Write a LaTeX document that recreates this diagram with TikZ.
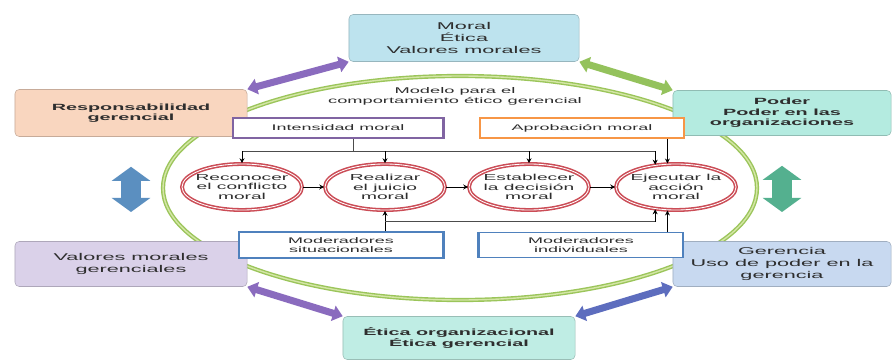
\documentclass[tikz,border=0pt]{standalone}
\usepackage{fontspec}
\setmainfont[FakeStretch=2.2]{Liberation Sans}
\usetikzlibrary{shapes.geometric,arrows.meta,calc}
\definecolor{moralblue}{HTML}{BDE3EE}
\definecolor{peach}{HTML}{F9D6BF}
\definecolor{aqua}{HTML}{B4EBE0}
\definecolor{lavender}{HTML}{DAD1E9}
\definecolor{paleblue}{HTML}{C8D9F0}
\definecolor{mint}{HTML}{BFEDE4}
\definecolor{ringgreen}{HTML}{9BC55A}
\definecolor{ringlight}{HTML}{D4E6A6}
\definecolor{stepred}{HTML}{CB4C56}
\definecolor{purpleline}{HTML}{8064A2}
\definecolor{orangeline}{HTML}{F79646}
\definecolor{blueline}{HTML}{4F81BD}
\definecolor{textgray}{HTML}{2E2E2E}
\definecolor{arrowpurple}{HTML}{8A6BBE}
\definecolor{arrowgreen}{HTML}{94C25C}
\definecolor{arrowblue}{HTML}{5B8FC0}
\definecolor{arrowteal}{HTML}{54B08F}
\definecolor{arrowindigo}{HTML}{5D6DBE}
\newcommand{\boxfont}{\fontsize{7}{8.5}\selectfont}
\newcommand{\boxboldfont}{\fontsize{6.4}{7.4}\selectfont\bfseries}
\newcommand{\stagefont}{\fontsize{5.8}{6.6}\selectfont}
\newcommand{\circlefont}{\fontsize{6.2}{6.9}\selectfont}

\begin{document}
\begin{tikzpicture}[x=0.025cm, y=-0.025cm]
    \tikzset{
        topic/.style={rounded corners=3pt, fill=#1, draw=#1!80!black, line width=0.4pt, align=center, text=textgray, inner sep=1pt},
        factor/.style={draw=#1, line width=1pt, fill=white, align=center, text=textgray, font=\stagefont, inner sep=1pt},
        stage/.style={ellipse, draw=stepred, line width=1.1pt, double=white, double distance=0.6pt, fill=white, minimum width=3cm, minimum height=1.15cm, align=center, text=textgray, font=\circlefont, inner xsep=-8pt, inner ysep=0pt},
        feed/.style={-{Stealth[length=3.5pt,width=3.5pt]}, line width=0.5pt, black},
        strongfeed/.style={feed, line width=1pt},
        busline/.style={line width=0.4pt, black!70},
        wide/.style={{Triangle[length=7pt,width=11pt]}-{Triangle[length=7pt,width=11pt]}, line width=5pt, draw=#1},
        tall/.style={{Triangle[length=10pt,width=27pt]}-{Triangle[length=10pt,width=27pt]}, line width=14pt, draw=#1, shorten <=0.75cm, shorten >=0.73cm}
    }
    \path[use as bounding box, fill=white] (0,0) rectangle (892,360);
    % MODEL RING
    \draw[ringgreen, line width=1pt, double=ringlight, double distance=1pt] (460,188) ellipse [x radius=297, y radius=112];
    \node[font=\fontsize{5.9}{7.2}\selectfont, text=textgray, align=center] (title) at (455,96) {Modelo para el\\comportamiento ético gerencial};
    % OUTER BOXES
    \node[topic=moralblue, minimum width=5.75cm, minimum height=1.175cm, font=\boxfont] (moral) at (464,38) {Moral\\Ética\\Valores morales};
    \node[topic=peach, minimum width=5.8cm, minimum height=1.175cm, font=\boxboldfont] (resp) at (131,113) {Responsabilidad\\gerencial};
    \node[topic=aqua, minimum width=5.45cm, minimum height=1.125cm, font=\boxboldfont] (poder) at (782,113) {Poder\\Poder en las\\organizaciones};
    \node[topic=lavender, minimum width=5.8cm, minimum height=1.125cm, font=\boxfont] (valores) at (131,264) {Valores morales\\gerenciales};
    \node[topic=paleblue, minimum width=5.45cm, minimum height=1.125cm, font=\boxfont] (gerencia) at (782,264) {Gerencia\\Uso de poder en la\\gerencia};
    \node[topic=mint, minimum width=5.8cm, minimum height=1.075cm, font=\boxboldfont] (etica) at (459,338) {Ética organizacional\\Ética gerencial};
    % FACTORS
    \node[factor=purpleline, minimum width=5.25cm, minimum height=0.5cm] (intensity) at (338,128) {Intensidad moral};
    \node[factor=orangeline, minimum width=5.1cm, minimum height=0.5cm] (approval) at (582,128) {Aprobación moral};
    \node[factor=blueline, minimum width=5.1cm, minimum height=0.65cm] (situational) at (341,245) {Moderadores\\situacionales};
    \node[factor=blueline, minimum width=5.1cm, minimum height=0.62cm] (individual) at (581,245) {Moderadores\\individuales};
    \draw[purpleline, line width=2.4pt] (intensity.north east) -- (intensity.south east);
    \draw[blueline, line width=2.4pt] (situational.north east) -- (situational.south east);
    \draw[blueline, line width=2.4pt] (individual.north west) -- (individual.south west);
    % STAGES
    \node[stage] (c1) at (242,187) {Reconocer\\el conflicto\\moral};
    \node[stage] (c2) at (385,187) {Realizar\\el juicio\\moral};
    \node[stage] (c3) at (529,187) {Establecer\\la decisión\\moral};
    \node[stage] (c4) at (676,187) {Ejecutar la\\acción\\moral};
    \foreach \a/\b in {c1/c2, c2/c3, c3/c4}
        \draw[feed] (\a) -- (\b);
    % UPPER LINKS
    \coordinate (intfoot) at ($(intensity.south)+(15,0)$);
    \coordinate (topbusL) at ($(c1.north)+(0,-12)$);
    \coordinate (topbusR) at (c4.133 |- topbusL);
    \draw[busline] (intfoot) -- (intfoot |- topbusL);
    \draw[busline] (topbusL) -- (topbusR);
    \foreach \c in {c1,c2,c3}
        \draw[feed] (\c.north |- topbusL) -- (\c.north);
    \draw[feed] (topbusR) -- (c4.133);
    \draw[strongfeed] (c4.110 |- approval.south) -- (c4.110);
    % LOWER LINKS
    \coordinate (lowbusL) at ($(c2.south)+(0,11)$);
    \coordinate (lowbusR) at (c4.227 |- lowbusL);
    \draw[feed] (c2.south |- situational.north) -- (c2.south);
    \draw[busline] (lowbusL) -- (lowbusR);
    \draw[feed] (lowbusR) -- (c4.227);
    \draw[strongfeed] (c4.250 |- individual.north) -- (c4.250);
    % BIG ARROWS
    \draw[wide=arrowpurple] (resp.north east) -- (moral.south west);
    \draw[wide=arrowgreen] (moral.south east) -- (poder.north west);
    \draw[wide=arrowpurple] (valores.south east) -- (etica.north west);
    \draw[wide=arrowindigo] (etica.north east) -- (gerencia.south west);
    \draw[tall=arrowblue] (resp.south) -- (valores.north);
    \draw[tall=arrowteal] (poder.south) -- (gerencia.north);
\end{tikzpicture}
\end{document}
